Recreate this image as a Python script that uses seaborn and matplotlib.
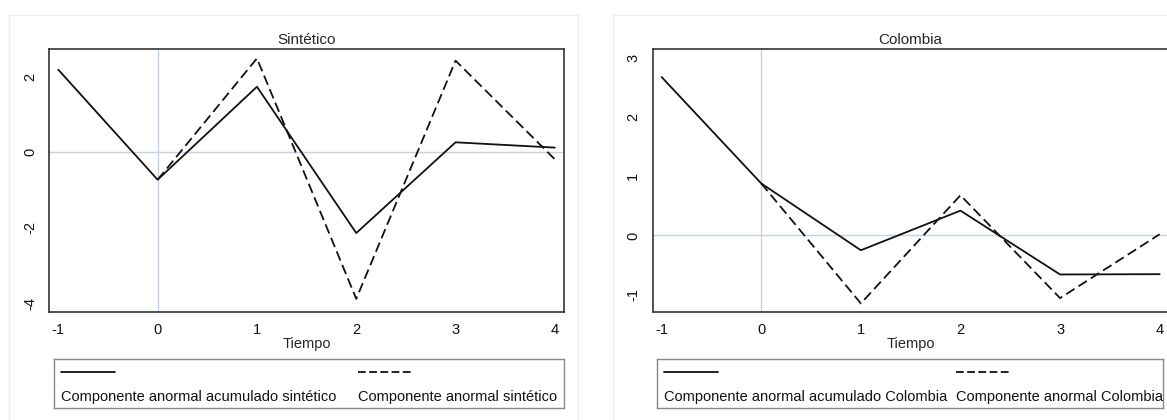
import matplotlib
matplotlib.use("Agg")
import matplotlib.pyplot as plt
import seaborn as sns
import numpy as np
import pandas as pd
from matplotlib.patches import Rectangle

# ======================================================
# DATA
# ======================================================

tiempo = [-1, 0, 1, 2, 3, 4]

sint_acum = [2.18, -0.73, 1.73, -2.14, 0.26, 0.12]
sint_anormal = [np.nan, -0.73, 2.48, -3.88, 2.42, -0.19]

col_acum = [2.68, 0.88, -0.25, 0.42, -0.66, -0.655]
col_anormal = [np.nan, 0.88, -1.15, 0.68, -1.06, 0.02]

titles = ["Sintético", "Colombia"]
labels_acum = ["Componente anormal acumulado sintético",
               "Componente anormal acumulado Colombia"]
labels_anormal = ["Componente anormal sintético",
                  "Componente anormal Colombia"]
yticks_list = [[-4, -2, 0, 2], [-1, 0, 1, 2, 3]]
ylims = [(-4.22, 2.72), (-1.29, 3.15)]

# ======================================================
# STYLE
# ======================================================

sns.set_style("white")
plt.rcParams["font.family"] = ["Liberation Sans", "DejaVu Sans"]
plt.rcParams["font.size"] = 10.5
plt.rcParams["axes.unicode_minus"] = False

W, H = 1167, 420
fig = plt.figure(figsize=(W / 100, H / 100), dpi=100)


def px_box(x0, y0, x1, y1):
    # pixel box (top-left origin) -> figure fraction rect
    return [x0 / W, 1 - y1 / H, (x1 - x0) / W, (y1 - y0) / H]


# faint panel frames
for x0, x1 in [(9, 578), (613, 1180)]:
    fig.patches.append(Rectangle((x0 / W, -0.1), (x1 - x0) / W, 1 - 15 / H + 0.1,
                                 transform=fig.transFigure, fill=False,
                                 edgecolor="#ededed", linewidth=1.0))

axes_px = [(49.4, 49.3, 563.8, 311.7), (652.7, 49.3, 1168.6, 311.7)]
legend_px = [(54.3, 359.3, 563.5, 408.3), (657.3, 359.3, 1163.0, 408.3)]
dash_key_x = [303.5, 298.7]

series = [(sint_acum, sint_anormal), (col_acum, col_anormal)]

for i in range(2):
    acum, anormal = series[i]
    df = pd.DataFrame({
        "Tiempo": tiempo * 2,
        "valor": list(acum) + list(anormal),
        "serie": [labels_acum[i]] * len(tiempo) + [labels_anormal[i]] * len(tiempo),
    })

    ax = fig.add_axes(px_box(*axes_px[i]))
    ax.axvline(0, color="#c5d4e2", linewidth=1.0, zorder=1)
    ax.axhline(0, color="#c5d4e2", linewidth=1.0, zorder=1)

    sns.lineplot(data=df, x="Tiempo", y="valor", style="serie",
                 dashes={labels_acum[i]: "", labels_anormal[i]: (5.5, 2.6)},
                 color="#111111", linewidth=1.3, legend=False, ax=ax, zorder=3)

    ax.set_xlim(-1.09, 4.09)
    ax.set_ylim(*ylims[i])
    ax.set_xticks(tiempo)
    ax.set_yticks(yticks_list[i])
    ax.set_yticklabels([str(v) for v in yticks_list[i]], rotation=90, va="center")
    ax.tick_params(axis="both", direction="out", length=5, width=0.8,
                   color="#444444", pad=3, labelsize=10.5, labelcolor="#111111")
    ax.tick_params(axis="y", pad=4)
    ax.set_xlabel("Tiempo", fontsize=10.5, labelpad=0)
    ax.set_ylabel("")
    ax.set_title(titles[i], fontsize=11, pad=4)
    for sp in ax.spines.values():
        sp.set_color("#333333")
        sp.set_linewidth(1.2)
        sp.set_visible(True)

    # Stata style legend box: keys on top row, labels below
    lx0, ly0, lx1, ly1 = legend_px[i]
    lw_, lh_ = lx1 - lx0, ly1 - ly0
    lax = fig.add_axes(px_box(lx0, ly0, lx1, ly1))
    lax.set_xlim(0, lw_)
    lax.set_ylim(0, lh_)
    lax.set_xticks([])
    lax.set_yticks([])
    for sp in lax.spines.values():
        sp.set_color("#888888")
        sp.set_linewidth(1.0)
        sp.set_visible(True)
    key_y = lh_ - 12.4
    lax.plot([6.4, 60.7], [key_y, key_y], color="#111111", linewidth=1.3)
    dx = dash_key_x[i]
    lax.plot([dx, dx + 54.5], [key_y, key_y], color="#111111", linewidth=1.3,
             dashes=(4.3, 1.9))
    lax.text(6.4, 11.6, labels_acum[i], fontsize=10.5, va="center", ha="left",
             color="#111111")
    lax.text(dx, 11.6, labels_anormal[i], fontsize=10.5, va="center", ha="left",
             color="#111111")

fig.savefig("out.png", dpi=100, facecolor="white")
